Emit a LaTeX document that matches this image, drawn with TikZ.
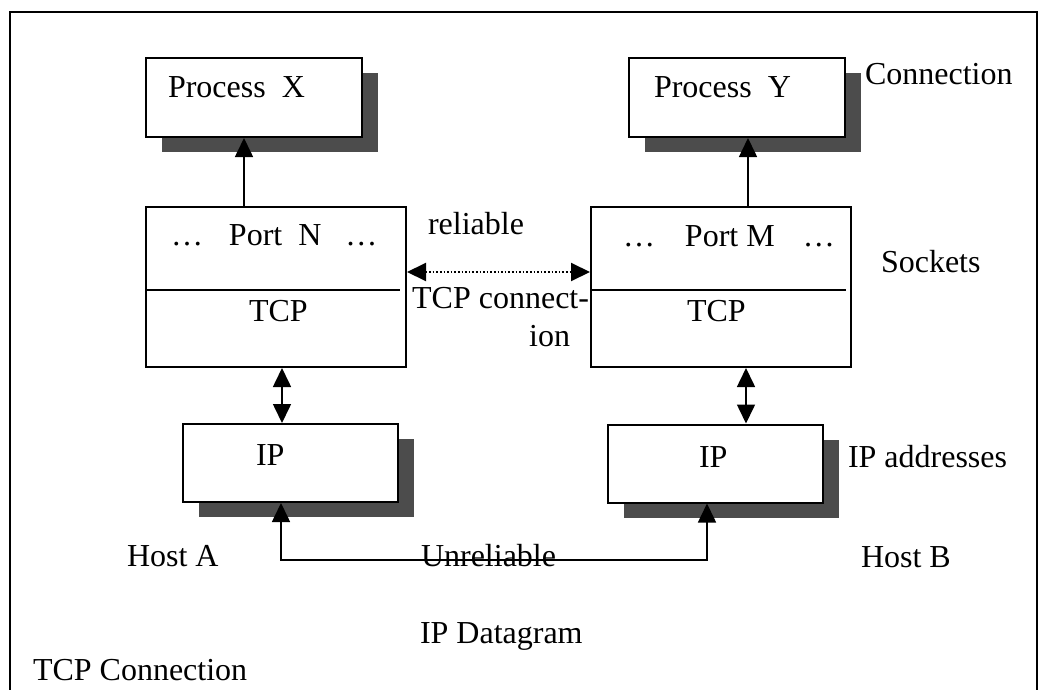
\documentclass[tikz,border=0pt]{standalone}
\usepackage{fontspec}
\setmainfont{Liberation Serif}
\usetikzlibrary{arrows.meta,shadows}

\begin{document}
\begin{tikzpicture}[
    x=1pt, y=-1pt, line width=2pt,
    shbox/.style={draw, fill=white, inner sep=0pt, minimum height=79pt,
        drop shadow={shadow xshift=16pt, shadow yshift=-15pt, fill=black!70, opacity=1}},
    sockbox/.style={draw, inner sep=0pt, minimum width=260pt, minimum height=160pt},
    txt/.style={font=\fontsize{32}{38}\selectfont, inner sep=0pt, anchor=base west},
    tip/.tip={Triangle[length=19pt, width=18pt]},
    conn/.style={line width=1.6pt, -tip},
    dconn/.style={line width=1.6pt, tip-tip}
]
\useasboundingbox (0,0) rectangle (1041,690);
% frame
\draw (10,12) rectangle (1037,700);

% boxes
\node[shbox, minimum width=216pt] (procx) at (254,97.5) {};
\node[shbox, minimum width=216pt] (procy) at (737,97.5) {};
\node[sockbox] (portn) at (276,287) {};
\node[sockbox] (portm) at (721,287) {};
\node[shbox, minimum width=215pt, minimum height=78pt] (ipa) at (290.5,463) {};
\node[shbox, minimum width=215pt, minimum height=78pt] (ipb) at (715.5,463.5) {};

\coordinate (div) at (0,290);
\draw (portn.west |- div) -- ([xshift=-7pt]portn.east |- div);
\draw (portm.west |- div) -- ([xshift=-6pt]portm.east |- div);

% texts in boxes
\node[txt] (lprocx) at (167,98) {Process~~X};
\node[txt] (lprocy) at (653,98) {Process~~Y};
\node[txt] (lportn) at (170,245) {\dots\hspace{26pt}Port~~N\hspace{24pt}\dots};
\node[txt] (lportm) at (622,246) {\dots\hspace{30pt}Port M\hspace{28pt}\dots};
\node[txt] (ltcpn) at (248,321) {TCP};
\node[txt] (ltcpm) at (686,321) {TCP};
\node[txt] (lipa) at (255,465) {IP};
\node[txt] (lipb) at (698,467) {IP};

% side labels
\node[txt] (lconn) at (864,85) {Connection};
\node[txt] (lsock) at (880,272) {Sockets};
\node[txt] (laddr) at (847,467) {IP addresses};
\node[txt] (lreli) at (427,234) {reliable};
\node[txt, anchor=base east] (ltcpc) at (590,308) {TCP connect-};
\node[txt, anchor=base east] (lion) at (571,346) {ion};
\node[txt] (lhosta) at (126,566) {Host A};
\node[txt] (lhostb) at (860,567) {Host B};
\node[txt] (lunrel) at (420,566) {Unreliable};
\node[txt] (ldgram) at (419,643) {IP Datagram};
\node[txt] (ltcpconn) at (32,680) {TCP Connection};

% connectors
\draw[conn] ([xshift=-32pt]portn.north) -- ([xshift=-32pt]portn.north |- procx.south);
\draw[conn] ([xshift=27pt]portm.north) -- ([xshift=27pt]portm.north |- procy.south);
\draw[dconn] ([xshift=6pt]portn.south) -- ([xshift=6pt]portn.south |- ipa.north);
\draw[dconn] ([xshift=25pt]portm.south) -- ([xshift=25pt]portm.south |- ipb.north);
\draw[dconn, dotted, line width=2pt] ([yshift=15pt]portn.east) -- ([yshift=15pt]portm.west);
\draw[dconn] ([xshift=-9.5pt]ipa.south) -- ++(0,57) -| ([xshift=-8.5pt]ipb.south);
\end{tikzpicture}
\end{document}
